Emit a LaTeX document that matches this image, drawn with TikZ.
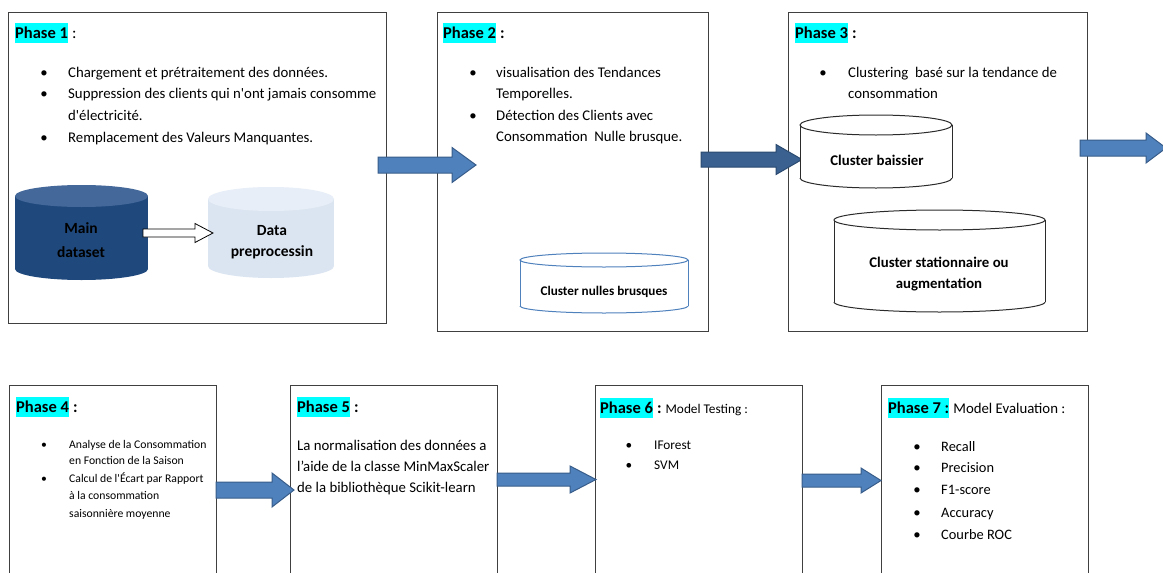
\documentclass[tikz,border=0pt]{standalone}
\usepackage{fontspec}
\setmainfont{Carlito}
\definecolor{boxgray}{HTML}{404040}
\definecolor{phasecyan}{HTML}{00FFFF}
\definecolor{arrblue}{HTML}{4F81BD}
\definecolor{arrdark}{HTML}{385D8A}
\definecolor{arrblue2}{HTML}{3A6190}
\definecolor{arrdark2}{HTML}{2B4A70}
\definecolor{navy}{HTML}{1F497D}
\definecolor{navytop}{HTML}{44689A}
\definecolor{pale}{HTML}{DBE5F1}
\definecolor{paletop}{HTML}{E7EEF7}
\definecolor{cylblue}{HTML}{4F81BD}
\definecolor{cyldark}{HTML}{2B2B2B}

\newcommand{\blockarrow}[8]{% x1 x2 y halfbody halfhead headlen fill drawopts
  \pgfmathsetmacro\baxa{#2-#6}
  \filldraw[fill=#7, #8, line join=miter]
   (#1,#3-#4) -- (\baxa,#3-#4) -- (\baxa,#3-#5) -- (#2,#3) -- (\baxa,#3+#5) -- (\baxa,#3+#4) -- (#1,#3+#4) -- cycle;}

\newcommand{\cyl}[8]{% L T R B ry bodyfill topfill drawopts
  \pgfmathsetmacro\cylcx{(#1+#3)/2}
  \pgfmathsetmacro\cylrx{(#3-#1)/2}
  \pgfmathsetmacro\cylty{#2+#5}
  \pgfmathsetmacro\cylby{#4-#5}
  \fill[#6] (#1,\cylty) rectangle (#3,\cylby);
  \fill[#6] (\cylcx,\cylby) ellipse [x radius=\cylrx, y radius=#5];
  \begin{scope}
    \clip (#1-3,\cylby) rectangle (#3+3,#4+3);
    \draw[#8] (\cylcx,\cylby) ellipse [x radius=\cylrx, y radius=#5];
  \end{scope}
  \draw[#8] (#1,\cylty) -- (#1,\cylby) (#3,\cylty) -- (#3,\cylby);
  \filldraw[fill=#7, #8] (\cylcx,\cylty) ellipse [x radius=\cylrx, y radius=#5];
}

\tikzset{
  box/.style={draw=boxgray, line width=1.2pt, fill=white, inner sep=0pt, anchor=north west},
  lbl/.style={fill=phasecyan, inner xsep=0pt, inner ysep=0pt, text height=15.6pt, text depth=4.4pt,
              font=\bfseries\fontsize{16.5}{20}\selectfont, anchor=west},
  colon/.style={inner sep=0pt, anchor=base west, font=\bfseries\fontsize{16.5}{20}\selectfont},
  lo/.style={yshift=-3pt},
  tx/.style={lo, inner sep=0pt, anchor=mid west, font=\fontsize{14.8}{18}\selectfont},
  bul/.style={lo, inner sep=0pt, anchor=mid, font=\fontsize{14.8}{18}\selectfont},
  txs/.style={yshift=-2.5pt, inner sep=0pt, anchor=mid west, font=\fontsize{11.7}{14}\selectfont},
  buls/.style={yshift=-2.5pt, inner sep=0pt, anchor=mid, font=\fontsize{11.7}{14}\selectfont},
  txm/.style={lo, inner sep=0pt, anchor=mid west, font=\fontsize{13.3}{16}\selectfont},
  bulm/.style={lo, inner sep=0pt, anchor=mid, font=\fontsize{13.3}{16}\selectfont},
  txe/.style={lo, inner sep=0pt, anchor=mid west, font=\fontsize{14.4}{17}\selectfont},
  cyltxt/.style={lo, inner sep=0pt, anchor=mid, font=\bfseries\fontsize{15.5}{18}\selectfont},
  cyltxts/.style={lo, inner sep=0pt, anchor=mid, font=\bfseries\fontsize{13.2}{16}\selectfont},
  cyltxtm/.style={lo, inner sep=0pt, anchor=mid, font=\bfseries\fontsize{14.8}{18}\selectfont},
}

\begin{document}
\begin{tikzpicture}[x=1pt,y=-1pt]
\useasboundingbox (0,0) rectangle (1163,573);
\fill[white] (0,0) rectangle (1163,573);

% ---------- boxes ----------
\node[box, minimum width=378pt, minimum height=311pt] (p1) at (8,12) {};
\node[box, minimum width=271pt, minimum height=319pt] (p2) at (437,12) {};
\node[box, minimum width=299pt, minimum height=319pt] (p3) at (788,12) {};
\node[box, minimum width=207pt, minimum height=200pt] (p4) at (9,385) {};
\node[box, minimum width=207pt, minimum height=200pt] (p5) at (290,385) {};
\node[box, minimum width=207pt, minimum height=200pt] (p6) at (595,385) {};
\node[box, minimum width=207pt, minimum height=200pt] (p7) at (881,385) {};

% ---------- block arrows ----------
\blockarrow{378}{476}{165}{8}{17.5}{24}{arrblue}{draw=arrdark, line width=1pt}
\blockarrow{701}{802}{159.5}{7.5}{15}{26}{arrblue2}{draw=arrdark2, line width=1pt}
\blockarrow{1080}{1166}{148}{8}{15}{20}{arrblue}{draw=arrdark, line width=1pt}
\blockarrow{216}{294}{490}{8}{17}{22}{arrblue}{draw=arrdark, line width=1pt}
\blockarrow{497}{596}{479.5}{6.5}{13.5}{26}{arrblue}{draw=arrdark, line width=1pt}
\blockarrow{802}{881}{480.5}{6.5}{12.5}{20}{arrblue}{draw=arrdark, line width=1pt}

% ---------- Phase 1 ----------
\node[lbl] (l1) at (15,33) {Phase 1};
\node[colon, font=\fontsize{16.5}{20}\selectfont] (c1) at ([xshift=3.7pt]l1.base east) {:};
\node[bul] (b1a) at (44,72) {•};
\node[tx] (t1a) at (68,72) {Chargement et prétraitement des données.};
\node[bul] (b1b) at (44,93) {•};
\node[tx] (t1b) at (68,93) {Suppression des clients qui n\textquotesingle ont jamais consomme};
\node[tx] (t1c) at (68,115) {d\textquotesingle électricité.};
\node[bul] (b1d) at (44,137) {•};
\node[tx] (t1d) at (68,137) {Remplacement des Valeurs Manquantes.};

\cyl{15}{185}{148}{280}{11}{navy}{navytop}{draw=none}
\cyl{208}{187}{334}{278}{12}{pale}{paletop}{draw=none}
\node[cyltxt] (main1) at (81,228) {Main};
\node[cyltxt] (main2) at (81,252) {dataset};
\node[cyltxt] (prep1) at (272,230) {Data};
\node[cyltxt] (prep2) at (272,251) {preprocessin};
\blockarrow{143}{213}{233}{4}{9.5}{18}{white}{draw=black, line width=0.8pt}

% ---------- Phase 2 ----------
\node[lbl] (l2) at (443,33) {Phase 2};
\node[colon] (c2) at ([xshift=3.7pt]l2.base east) {:};
\node[bul] (b2a) at (473,72) {•};
\node[tx] (t2a) at (496,72) {visualisation des Tendances};
\node[tx] (t2b) at (496,93) {Temporelles.};
\node[bul] (b2c) at (473,115) {•};
\node[tx] (t2c) at (496,115) {Détection des Clients avec};
\node[tx] (t2d) at (496,136) {Consommation\ \ Nulle brusque.};
\cyl{520}{253}{688}{313}{7}{white}{white}{draw=cylblue, line width=1pt}
\node[cyltxts] (nul) at (604,290) {Cluster nulles brusques};

% ---------- Phase 3 ----------
\node[lbl] (l3) at (795,33) {Phase 3};
\node[colon] (c3) at ([xshift=3.7pt]l3.base east) {:};
\node[bul] (b3a) at (823,72) {•};
\node[tx] (t3a) at (848,72) {Clustering\ \ basé sur la tendance de};
\node[tx] (t3b) at (848,93) {consommation};
\cyl{800}{115}{952}{188}{10}{white}{white}{draw=cyldark, line width=1pt}
\node[cyltxtm] (bais) at (877,160) {Cluster baissier};
\cyl{834}{210}{1045}{312}{10}{white}{white}{draw=cyldark, line width=1pt}
\node[cyltxtm] (stat1) at (939,262) {Cluster stationnaire ou};
\node[cyltxtm] (stat2) at (939,283) {augmentation};

% ---------- Phase 4 ----------
\node[lbl] (l4) at (16,407) {Phase 4};
\node[colon] (c4) at ([xshift=3.7pt]l4.base east) {:};
\node[buls] (b4a) at (44,444) {•};
\node[txs] (t4a) at (69,444) {Analyse de la Consommation};
\node[txs] (t4b) at (69,460) {en Fonction de la Saison};
\node[buls] (b4c) at (44,478) {•};
\node[txs] (t4c) at (69,478) {Calcul de l\textquotesingle Écart par Rapport};
\node[txs] (t4d) at (69,495) {à la consommation};
\node[txs] (t4e) at (69,513) {saisonnière moyenne};

% ---------- Phase 5 ----------
\node[lbl] (l5) at (297,407) {Phase 5};
\node[colon] (c5) at ([xshift=3.7pt]l5.base east) {:};
\node[tx] (t5a) at (297,445) {La normalisation des données a};
\node[tx] (t5b) at (297,466) {l’aide de la classe MinMaxScaler};
\node[tx] (t5c) at (297,487) {de la bibliothèque Scikit-learn};

% ---------- Phase 6 ----------
\node[lbl] (l6) at (600,408) {Phase 6};
\node[colon] (c6) at ([xshift=3.7pt]l6.base east) {:\hspace{4pt}{\mdseries\fontsize{13.3}{16}\selectfont Model Testing :}};
\node[bulm] (b6a) at (629,444) {•};
\node[txm] (t6a) at (654,444) {IForest};
\node[bulm] (b6b) at (629,464) {•};
\node[txm] (t6b) at (654,464) {SVM};

% ---------- Phase 7 ----------
\node[lbl] (l7) at (888,408) {Phase 7 :};
\node[colon, font=\fontsize{14.8}{18}\selectfont] (c7) at ([xshift=3.7pt]l7.base east) {Model Evaluation :};
\node[bul] (b7a) at (917,446) {•};
\node[txe] (t7a) at (941,446) {Recall};
\node[bul] (b7b) at (917,467) {•};
\node[txe] (t7b) at (941,467) {Precision};
\node[bul] (b7c) at (917,489) {•};
\node[txe] (t7c) at (941,489) {F1-score};
\node[bul] (b7d) at (917,512) {•};
\node[txe] (t7d) at (941,512) {Accuracy};
\node[bul] (b7e) at (917,534) {•};
\node[txe] (t7e) at (941,534) {Courbe ROC};
\end{tikzpicture}
\end{document}
